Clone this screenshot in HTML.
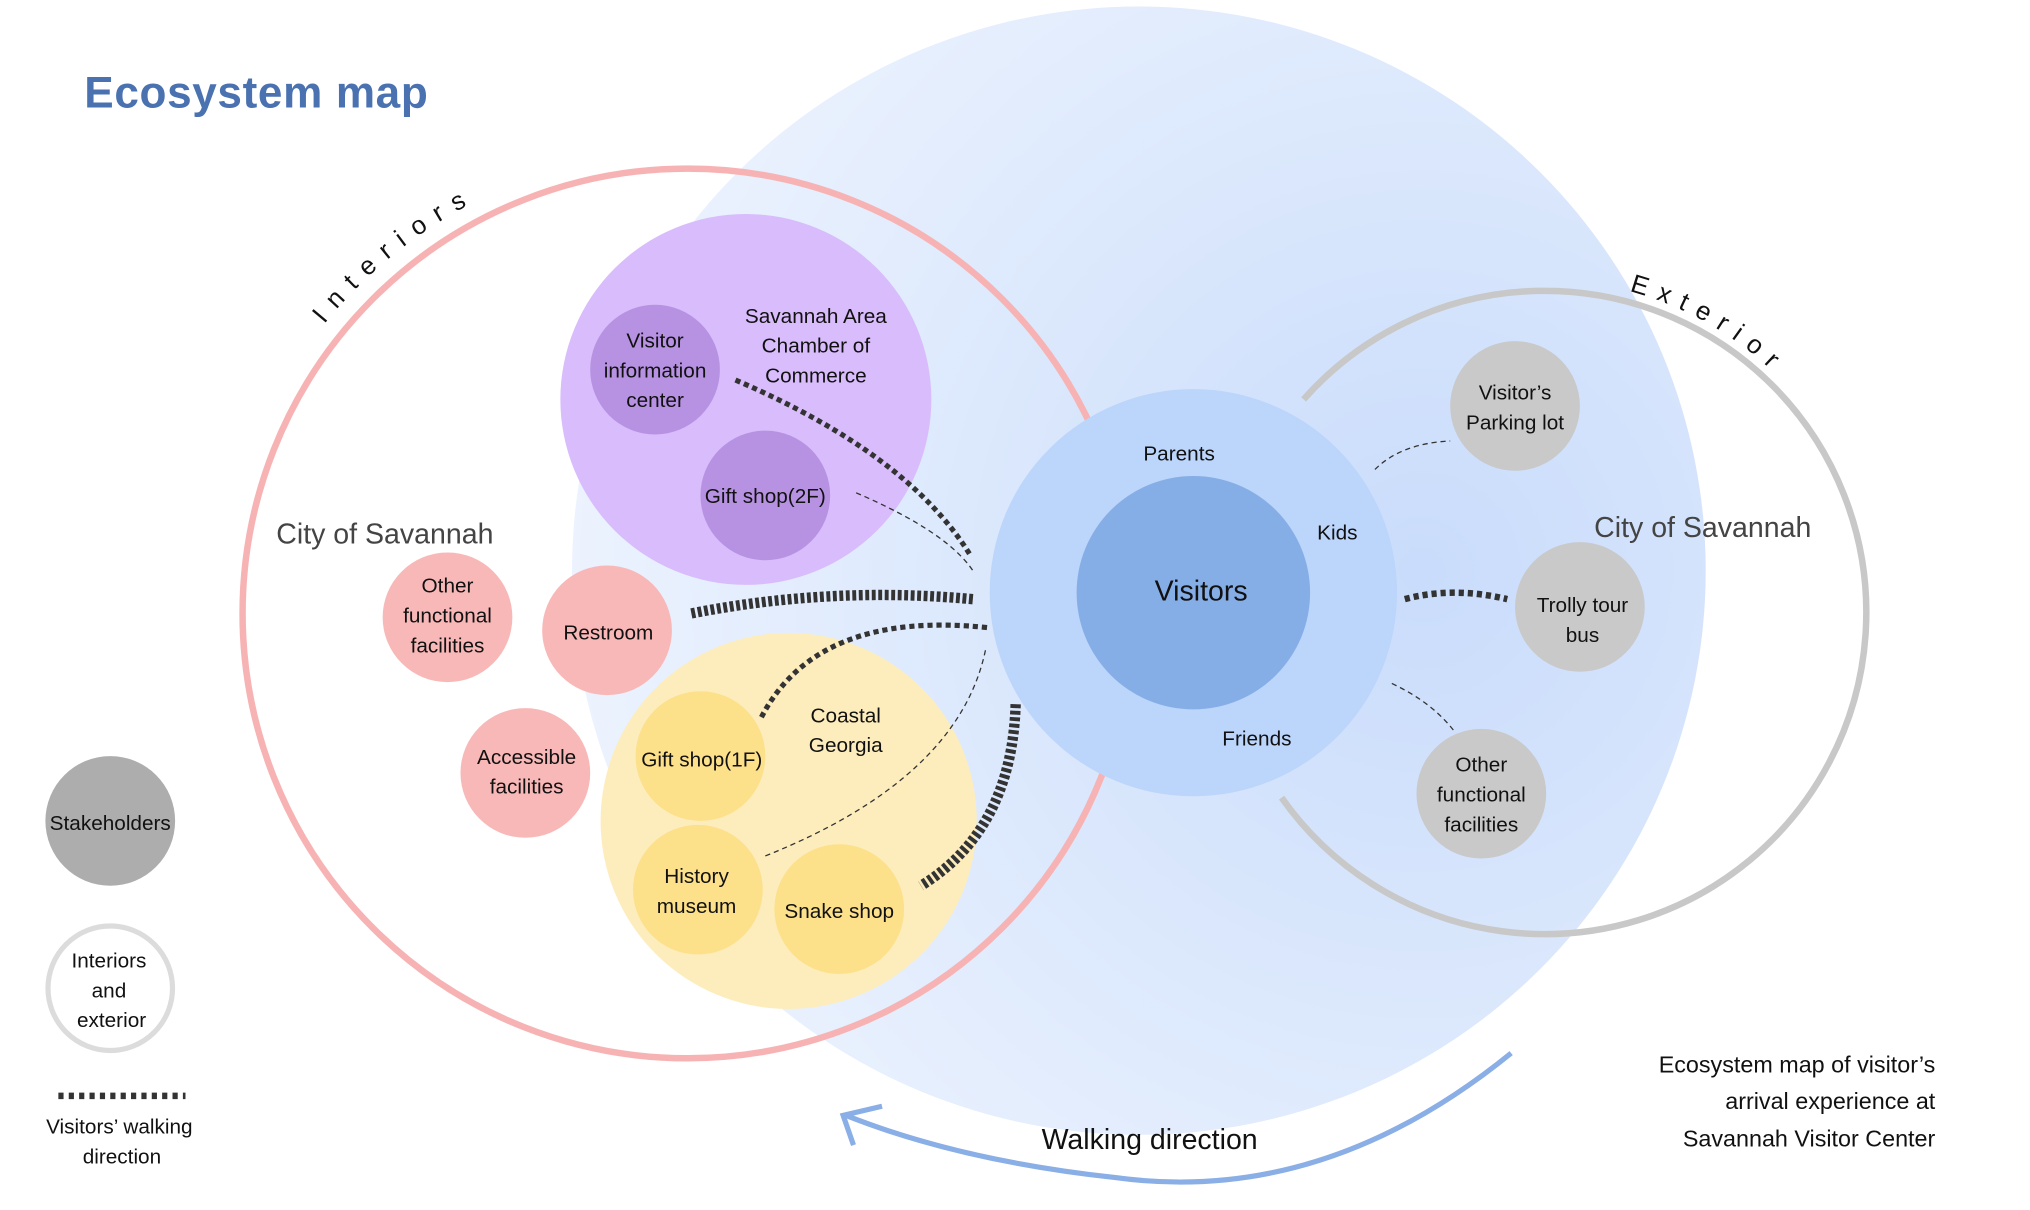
<!DOCTYPE html>
<html><head><meta charset="utf-8"><style>
html,body{margin:0;padding:0;background:#fff}
svg{display:block}
text{font-family:"Liberation Sans",sans-serif;fill:#111}
</style></head><body>
<svg width="2030" height="1210" viewBox="0 0 1565 933" preserveAspectRatio="none" xmlns="http://www.w3.org/2000/svg">
<defs>
<radialGradient id="bg" cx="0.75" cy="0.5" r="0.8">
<stop offset="0" stop-color="#c9dcfb"/><stop offset="1" stop-color="#eef4fe"/>
</radialGradient>
<path id="pi" d="M 250 250 A 360 360 0 0 1 450 125"/>
<path id="pe" d="M 1256 224.5 A 255 255 0 0 1 1385 306"/>
</defs>
<rect width="1565" height="933" fill="#fff"/>
<text x="65" y="83" font-size="34" font-weight="bold" letter-spacing="0.5" style="fill:#4a72b0">Ecosystem map</text>
<ellipse cx="878" cy="440" rx="437" ry="435" fill="url(#bg)"/>
<circle cx="530" cy="473" r="343" fill="none" stroke="#f7b3b3" stroke-width="5"/>
<path d="M 1005 308 A 248 248 0 1 1 988 615" fill="none" stroke="#c8c8c8" stroke-width="5"/>
<circle cx="920" cy="457" r="157" fill="#bcd5fa"/>
<circle cx="920" cy="457" r="90" fill="#86aee6"/>
<circle cx="575" cy="308" r="143" fill="#d9bcfb"/>
<circle cx="505" cy="285" r="50" fill="#b792e3"/>
<circle cx="590" cy="382" r="50" fill="#b792e3"/>
<circle cx="608" cy="633" r="145" fill="#fdedbd"/>
<circle cx="540" cy="583" r="50" fill="#fde08a"/>
<circle cx="538" cy="686" r="50" fill="#fde08a"/>
<circle cx="647" cy="701" r="50" fill="#fde08a"/>
<circle cx="345" cy="476" r="50" fill="#f9b8b8"/>
<circle cx="468" cy="486" r="50" fill="#f9b8b8"/>
<circle cx="405" cy="596" r="50" fill="#f9b8b8"/>
<circle cx="1168" cy="313" r="50" fill="#c9c9c9"/>
<circle cx="1218" cy="468" r="50" fill="#c9c9c9"/>
<circle cx="1142" cy="612" r="50" fill="#c9c9c9"/>
<circle cx="85" cy="633" r="50" fill="#adadad"/>
<circle cx="85" cy="762" r="48" fill="#fff" stroke="#dcdcdc" stroke-width="4"/>
<g fill="none" stroke="#333">
<path d="M 567 293 Q 700 350 748 428" stroke-width="4" stroke-dasharray="4 3"/>
<path d="M 533 473 Q 640 452 750 462" stroke-width="8" stroke-dasharray="3 2"/>
<path d="M 587 553 Q 630 470 762 484" stroke-width="4" stroke-dasharray="4 3"/>
<path d="M 783 543 Q 780 640 710 683" stroke-width="8" stroke-dasharray="3 2"/>
<path d="M 1083 462 Q 1120 452 1162 462" stroke-width="5" stroke-dasharray="4 3"/>
<path d="M 45 845 L 143 845" stroke-width="5" stroke-dasharray="4 4"/>
<path d="M 660 380 Q 730 410 750 440" stroke-width="1" stroke-dasharray="4 3"/>
<path d="M 590 660 Q 740 600 760 500" stroke-width="1" stroke-dasharray="4 3"/>
<path d="M 1060 362 Q 1080 342 1118 340" stroke-width="1" stroke-dasharray="4 3"/>
<path d="M 1073 527 Q 1105 542 1122 565" stroke-width="1" stroke-dasharray="4 3"/>
</g>
<path d="M 1165 812 Q 1020 930 860 908 Q 740 895 652 860" fill="none" stroke="#8aaee6" stroke-width="4"/>
<path d="M 680 853 L 650 860 L 658 883" fill="none" stroke="#8aaee6" stroke-width="4"/>
<text font-size="20" letter-spacing="9" font-weight="500"><textPath href="#pi">Interiors</textPath></text>
<text font-size="20" letter-spacing="8" font-weight="500"><textPath href="#pe">Exterior</textPath></text>
<g font-size="22" style="fill:#444">
<text x="213" y="419" style="fill:#444">City of Savannah</text>
<text x="1229" y="414" style="fill:#444">City of Savannah</text>
</g>
<text x="926" y="463" font-size="22" text-anchor="middle">Visitors</text>
<text x="803" y="886" font-size="22">Walking direction</text>
<g font-size="16" text-anchor="middle">
<text x="909" y="355">Parents</text>
<text x="1031" y="416">Kids</text>
<text x="969" y="575">Friends</text>
<text x="505" y="268">Visitor</text><text x="505" y="291">information</text><text x="505" y="314">center</text>
<text x="629" y="249">Savannah Area</text><text x="629" y="272">Chamber of</text><text x="629" y="295">Commerce</text>
<text x="590" y="388">Gift shop(2F)</text>
<text x="345" y="457">Other</text><text x="345" y="480">functional</text><text x="345" y="503">facilities</text>
<text x="469" y="493">Restroom</text>
<text x="406" y="589">Accessible</text><text x="406" y="612">facilities</text>
<text x="541" y="591">Gift shop(1F)</text>
<text x="652" y="557">Coastal</text><text x="652" y="580">Georgia</text>
<text x="537" y="681">History</text><text x="537" y="704">museum</text>
<text x="647" y="708">Snake shop</text>
<text x="1168" y="308">Visitor’s</text><text x="1168" y="331">Parking lot</text>
<text x="1220" y="472">Trolly tour</text><text x="1220" y="495">bus</text>
<text x="1142" y="595">Other</text><text x="1142" y="618">functional</text><text x="1142" y="641">facilities</text>
<text x="85" y="640">Stakeholders</text>
<text x="84" y="746">Interiors</text><text x="84" y="769">and</text><text x="86" y="792">exterior</text>
<text x="92" y="874">Visitors’ walking</text><text x="94" y="897">direction</text>
</g>
<g font-size="18" text-anchor="end">
<text x="1492" y="827">Ecosystem map of visitor’s</text>
<text x="1492" y="855">arrival experience at</text>
<text x="1492" y="884">Savannah Visitor Center</text>
</g>
</svg>
</body></html>
